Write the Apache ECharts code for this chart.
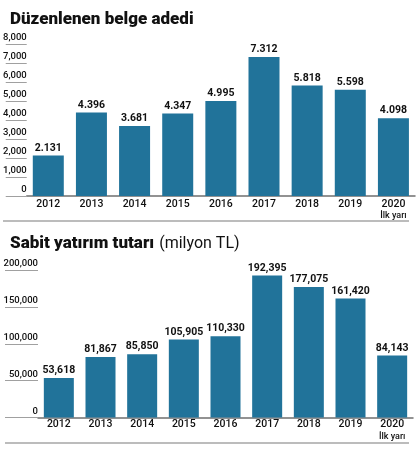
<!doctype html>
<html>
    <head>
        <meta charset="utf-8">
        <title>Düzenlenen belge adedi</title>
        <style>
            html, body { margin: 0; padding: 0; background: #fff; }
            #main { width: 420px; height: 450px; }
        </style>
    </head>
    <body>
        <div id="main"></div>
        <script src="https://cdn.jsdelivr.net/npm/echarts@6/dist/echarts.min.js"></script>
        <script>
            var years = ['2012', '2013', '2014', '2015', '2016', '2017', '2018', '2019', '2020\nİlk yarı'];
            var belgeAdedi = [2131, 4396, 3681, 4347, 4995, 7312, 5818, 5598, 4098];
            var yatirimTutari = [53618, 81867, 85850, 105905, 110330, 192395, 177075, 161420, 84143];

            var FONT = 'Roboto, "DejaVu Sans Condensed", sans-serif';
            var BLUE = '#21739a';
            var INK = '#111';

            function group(v, sep) {
                return String(v).replace(/\B(?=(\d{3})+(?!\d))/g, sep);
            }

            function yearLabel(v) {
                var parts = v.split('\n');
                return parts.length > 1 ? parts[0] + '\n{s|' + parts[1] + '}' : parts[0];
            }

            function xAxisFor(gridIndex, margin) {
                return {
                    type: 'category',
                    gridIndex: gridIndex,
                    data: years,
                    axisLine: { lineStyle: { color: '#6f6f6f', width: 1.5 } },
                    axisTick: { show: false },
                    axisLabel: {
                        interval: 0,
                        margin: margin,
                        color: INK,
                        fontFamily: FONT,
                        fontWeight: 500,
                        fontSize: 10.5,
                        lineHeight: 12,
                        formatter: yearLabel,
                        rich: { s: { fontFamily: FONT, fontWeight: 500, fontSize: 9, color: INK, lineHeight: 12 } }
                    }
                };
            }

            function yAxisFor(gridIndex, max, interval, tickLen) {
                return {
                    type: 'value',
                    gridIndex: gridIndex,
                    min: 0,
                    max: max,
                    interval: interval,
                    axisLine: { show: false },
                    axisTick: { show: true, length: tickLen, lineStyle: { color: '#a0a0a0' } },
                    splitLine: { show: false },
                    axisLabel: {
                        margin: 0,
                        align: 'right',
                        verticalAlign: 'bottom',
                        padding: [0, 0, 1, 0],
                        color: INK,
                        fontFamily: FONT,
                        fontWeight: 500,
                        fontSize: 9.5,
                        formatter: function (v) { return group(v, ','); }
                    }
                };
            }

            function barLabel(sep) {
                return {
                    show: true,
                    position: 'top',
                    distance: 2,
                    color: INK,
                    fontFamily: FONT,
                    fontWeight: 'bold',
                    fontSize: 10.5,
                    formatter: function (p) { return group(p.value, sep); }
                };
            }

            var chart = echarts.init(document.getElementById('main'));

            chart.setOption({
                backgroundColor: '#fff',
                animation: false,
                title: [{
                    text: 'Düzenlenen belge adedi',
                    left: 5,
                    top: 6,
                    textStyle: { fontFamily: FONT, fontWeight: 900, fontSize: 17, color: INK }
                }, {
                    text: '{b|Sabit yatırım tutarı} {n|(milyon TL)}',
                    left: 5,
                    top: 230,
                    textStyle: {
                        rich: {
                            b: { fontFamily: FONT, fontWeight: 900, fontSize: 17, color: INK },
                            n: { fontFamily: FONT, fontWeight: 'normal', fontSize: 16, color: INK }
                        }
                    }
                }],
                grid: [
                    { left: 26, right: 5, top: 44, height: 152 },
                    { left: 38, right: 7, top: 270, height: 147.5 }
                ],
                xAxis: [xAxisFor(0, 2), xAxisFor(1, 1)],
                yAxis: [yAxisFor(0, 8000, 1000, 21), yAxisFor(1, 200000, 50000, 33)],
                series: [{
                    type: 'bar',
                    xAxisIndex: 0,
                    yAxisIndex: 0,
                    data: belgeAdedi,
                    barWidth: 31,
                    itemStyle: { color: BLUE },
                    label: barLabel('.')
                }, {
                    type: 'bar',
                    xAxisIndex: 1,
                    yAxisIndex: 1,
                    data: yatirimTutari,
                    barWidth: 30,
                    itemStyle: { color: BLUE },
                    label: barLabel(',')
                }],
                graphic: [{
                    type: 'line',
                    shape: { x1: 3, y1: 221, x2: 409, y2: 221 },
                    style: { stroke: '#7a7a7a', lineWidth: 1.2 }
                }, {
                    type: 'line',
                    shape: { x1: 5, y1: 443, x2: 409, y2: 443 },
                    style: { stroke: '#7a7a7a', lineWidth: 1.2 }
                }]
            });

            window.addEventListener('resize', function () {
                chart.resize();
            });
        </script>
    </body>
</html>
